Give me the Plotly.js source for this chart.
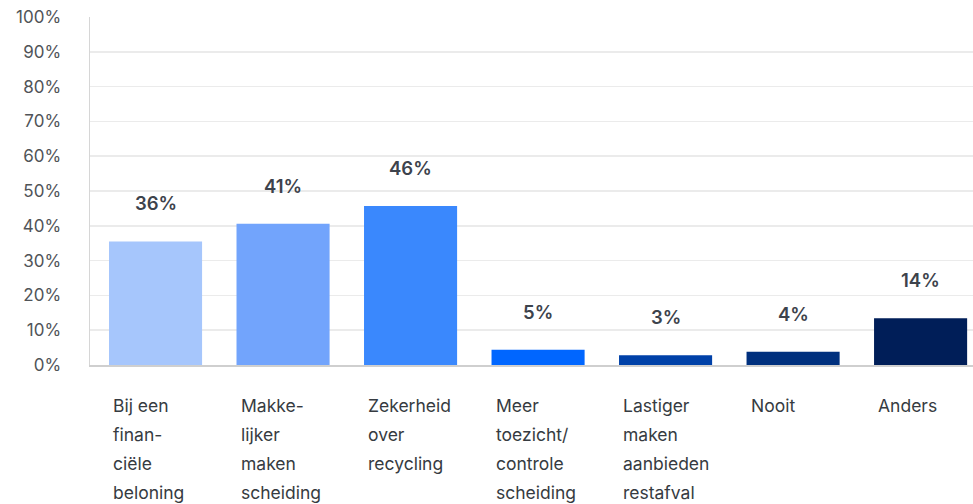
<!DOCTYPE html>
<html>
<head>
<meta charset="utf-8">
<script src="https://cdn.plot.ly/plotly-3.0.1.min.js"></script>
<style>html,body{margin:0;padding:0;background:#fff;}#chart{width:973px;height:504px;}</style>
</head>
<body>
<div id="chart"></div>
<script>
const categoryLines = [
  ["Bij een", "finan-", "ciële", "beloning"],
  ["Makke-", "lijker", "maken", "scheiding"],
  ["Zekerheid", "over", "recycling"],
  ["Meer", "toezicht/", "controle", "scheiding"],
  ["Lastiger", "maken", "aanbieden", "restafval"],
  ["Nooit"],
  ["Anders"]
];
const values = [35.5, 40.6, 45.7, 4.4, 2.8, 3.8, 13.4];
const valueLabels = ["36%", "41%", "46%", "5%", "3%", "4%", "14%"];
const barColors = ["#a6c6fc", "#72a4fc", "#3a88fd", "#0066ff", "#0041a8", "#00307e", "#001e58"];
const yTicks = [0, 10, 20, 30, 40, 50, 60, 70, 80, 90, 100];

const xIdx = categoryLines.map((_, i) => i);
const BAR_W = 0.73;

const annotations = [];
values.forEach((v, i) => {
  annotations.push({
    x: i, y: v, xref: 'x', yref: 'y', text: valueLabels[i], showarrow: false,
    yanchor: 'middle', yshift: 38,
    font: {family: 'Inter, sans-serif', size: 18.5, color: '#3d434c', weight: 600}
  });
});
categoryLines.forEach((lines, i) => {
  lines.forEach((ln, k) => {
    annotations.push({
      x: i, y: 0, xref: 'x', yref: 'paper', text: ln, showarrow: false,
      xanchor: 'left', yanchor: 'middle', align: 'left',
      xshift: -BAR_W / 2 * 127.5 + 2, yshift: -(40 + k * 29),
      font: {family: 'Inter, sans-serif', size: 17.5, color: '#363b41'}
    });
  });
});

Plotly.newPlot('chart', [{
  type: 'bar',
  x: xIdx,
  y: values,
  width: BAR_W,
  marker: {color: barColors, line: {width: 0}},
  hoverinfo: 'skip'
}], {
  width: 973, height: 504,
  margin: {l: 90, r: 0, t: 17, b: 139},
  paper_bgcolor: '#fff', plot_bgcolor: '#fff',
  showlegend: false,
  xaxis: {
    range: [-0.514, 6.411], showticklabels: false, ticks: '',
    showgrid: false, zeroline: false, showline: true, linecolor: '#cfcfcf', linewidth: 1.5
  },
  yaxis: {
    range: [0, 100], tickvals: yTicks, ticktext: yTicks.map(t => t + '%'),
    showgrid: true, gridcolor: '#ebebeb', gridwidth: 1.5, zeroline: false,
    showline: true, linecolor: '#d6d6d6', linewidth: 1.5,
    ticks: '', ticklabelstandoff: 24,
    tickfont: {family: 'Inter, sans-serif', size: 17, color: '#505458'}
  },
  annotations: annotations
}, {displayModeBar: false, staticPlot: true});
</script>
</body>
</html>
